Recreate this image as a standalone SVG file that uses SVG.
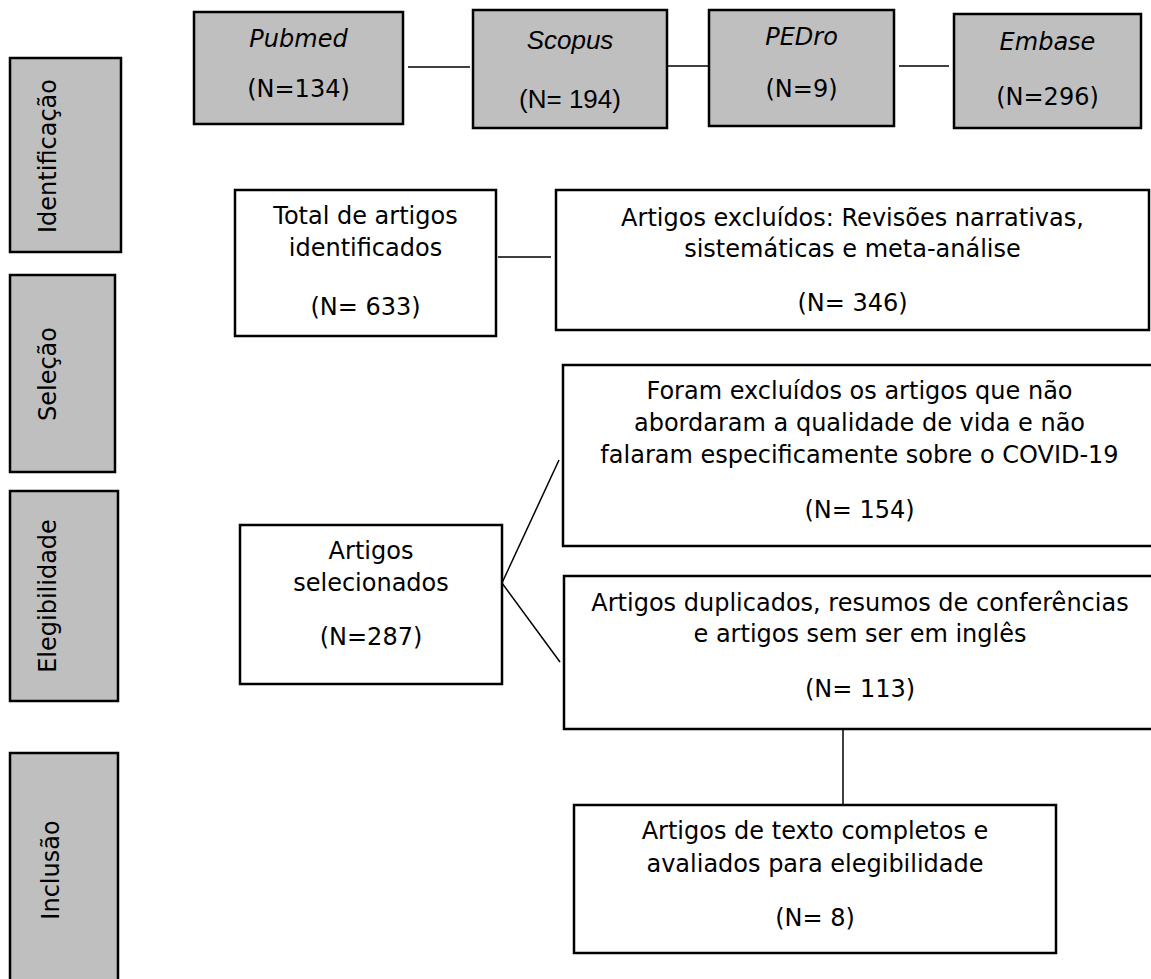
<svg xmlns="http://www.w3.org/2000/svg" width="1151" height="979" viewBox="0 0 1151 979">
<style>
.box{fill:#ffffff;stroke:#000000;stroke-width:2.5}
.gbox{fill:#bfbfbf;stroke:#000000;stroke-width:2.5}
.t{font-family:"DejaVu Sans",Verdana,sans-serif;font-size:24px;fill:#000000;text-anchor:middle}
.i{font-style:italic}
.c{font-family:"Liberation Sans",Arial,sans-serif;font-size:26px;fill:#000000;text-anchor:middle}
.ln{stroke:#000000;stroke-width:1.5;fill:none}
</style>
<rect width="1151" height="979" fill="#ffffff"/>
<g id="stage-identificacao">
<rect class="gbox" x="10" y="58" width="111" height="194"/>
<text class="t" transform="translate(56,156) rotate(-90)">Identificação</text>
</g>
<g id="stage-selecao">
<rect class="gbox" x="10" y="275" width="105" height="197"/>
<text class="t" transform="translate(56,374) rotate(-90)">Seleção</text>
</g>
<g id="stage-elegibilidade">
<rect class="gbox" x="10" y="491" width="108" height="210"/>
<text class="t" transform="translate(56,596) rotate(-90)">Elegibilidade</text>
</g>
<g id="stage-inclusao">
<rect class="gbox" x="10" y="753" width="108" height="240"/>
<text class="t" transform="translate(59,870) rotate(-90)">Inclusão</text>
</g>
<g id="pubmed">
<rect class="gbox" x="194" y="12" width="209" height="112"/>
<text class="t i" x="298.5" y="47">Pubmed</text>
<text class="t" x="298.5" y="97">(N=134)</text>
</g>
<g id="scopus">
<rect class="gbox" x="473" y="10" width="194" height="118"/>
<text class="c i" x="570" y="49">Scopus</text>
<text class="c" x="570" y="108">(N= 194)</text>
</g>
<g id="pedro">
<rect class="gbox" x="709" y="10" width="185" height="116"/>
<text class="t i" x="801.5" y="45">PEDro</text>
<text class="t" x="801.5" y="97">(N=9)</text>
</g>
<g id="embase">
<rect class="gbox" x="954" y="14" width="187" height="114"/>
<text class="t i" x="1047.5" y="50">Embase</text>
<text class="t" x="1047.5" y="105">(N=296)</text>
</g>
<g id="total">
<rect class="box" x="235" y="190" width="261" height="146"/>
<text class="t" x="365.5" y="224">Total de artigos</text>
<text class="t" x="365.5" y="256">identificados</text>
<text class="t" x="365.5" y="315">(N= 633)</text>
</g>
<g id="excluidos">
<rect class="box" x="556" y="190" width="593" height="140"/>
<text class="t" x="852.5" y="226">Artigos excluídos: Revisões narrativas,</text>
<text class="t" x="852.5" y="257">sistemáticas e meta-análise</text>
<text class="t" x="852.5" y="311">(N= 346)</text>
</g>
<g id="selecionados">
<rect class="box" x="240" y="525" width="262" height="159"/>
<text class="t" x="371" y="559">Artigos</text>
<text class="t" x="371" y="591">selecionados</text>
<text class="t" x="371" y="645">(N=287)</text>
</g>
<g id="foram">
<rect class="box" x="563" y="365" width="593" height="181"/>
<text class="t" x="859.5" y="399">Foram excluídos os artigos que não</text>
<text class="t" x="859.5" y="431">abordaram a qualidade de vida e não</text>
<text class="t" x="859.5" y="463">falaram especificamente sobre o COVID-19</text>
<text class="t" x="859.5" y="518">(N= 154)</text>
</g>
<g id="duplicados">
<rect class="box" x="564" y="576" width="592" height="153"/>
<text class="t" x="860" y="611">Artigos duplicados, resumos de conferências</text>
<text class="t" x="860" y="642">e artigos sem ser em inglês</text>
<text class="t" x="860" y="697">(N= 113)</text>
</g>
<g id="final">
<rect class="box" x="574" y="805" width="482" height="148"/>
<text class="t" x="815" y="839">Artigos de texto completos e</text>
<text class="t" x="815" y="872">avaliados para elegibilidade</text>
<text class="t" x="815" y="926">(N= 8)</text>
</g>
<g id="connectors">
<line class="ln" x1="408" y1="67" x2="470" y2="67"/>
<line class="ln" x1="667" y1="66" x2="709" y2="66"/>
<line class="ln" x1="899" y1="66" x2="949" y2="66"/>
<line class="ln" x1="498" y1="257" x2="551" y2="257"/>
<line class="ln" x1="502" y1="583" x2="559" y2="460"/>
<line class="ln" x1="502" y1="583" x2="560" y2="662"/>
<line class="ln" x1="843" y1="729" x2="843" y2="805"/>
</g>
</svg>
